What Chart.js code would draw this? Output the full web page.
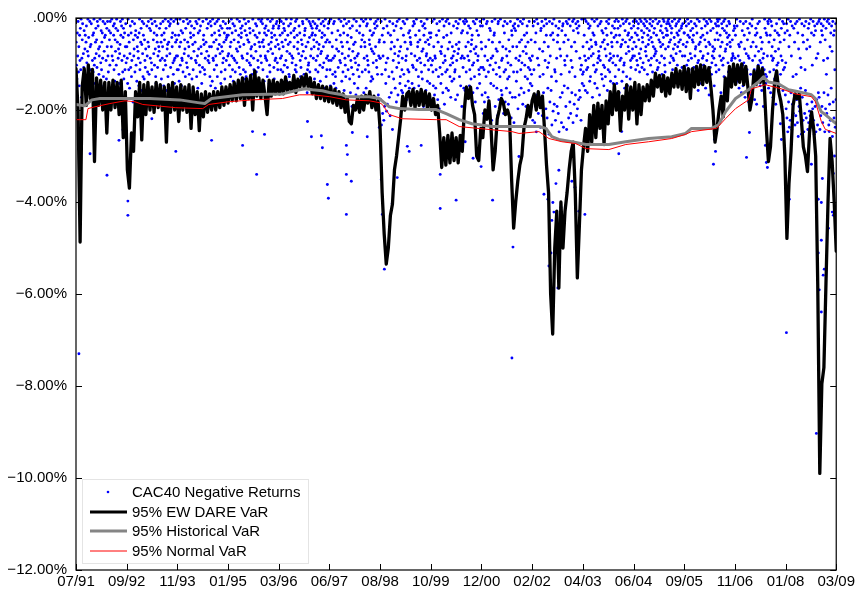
<!DOCTYPE html>
<html>
<head>
<meta charset="utf-8">
<title>CAC40 VaR backtest</title>
<script src="https://cdn.jsdelivr.net/npm/chart.js@4.4.1/dist/chart.umd.min.js"></script>
<style>
  html, body { margin: 0; padding: 0; background: #fff; }
  canvas { display: block; }
</style>
</head>
<body>
<canvas id="chart" width="858" height="594"></canvas>
<script>
// ---- Axis labels -------------------------------------------------------
// x is measured in trading days since 07/91; one labelled period = 296 days.
const periodLabels = ['07/91','09/92','11/93','01/95','03/96','06/97','08/98','10/99',
                      '12/00','02/02','04/03','06/04','09/05','11/06','01/08','03/09'];
const daysPerPeriod = 296;
const yTickValues = [0, -2, -4, -6, -8, -10, -12];
const yTickLabels = ['.00%', '\u22122.00%', '\u22124.00%', '\u22126.00%', '\u22128.00%', '\u221210.00%', '\u221212.00%'];

// ---- 95% EW DARE VaR, losses in basis points, one value every 12 trading days
const dareStep = 12;
const dareVaRbp = [
  110,200,487,150,110,190,102,175,112,312, 130,190,135,200,140,250,140,200,135,195,
  140,210,135,260,160,330,370,250,290,160, 215,140,265,145,210,140,200,150,205,140,
  195,145,200,150,270,145,205,140,200,150, 225,145,200,150,205,145,240,150,210,160,
  245,165,215,160,205,165,200,160,200,160, 195,150,190,150,185,145,180,140,180,135,
  175,130,190,132,175,125,200,115,170,130, 175,135,170,210,135,170,135,165,140,165,
  135,165,128,160,140,158,125,162,133,150, 128,150,122,150,130,165,140,175,145,175,
  148,180,150,182,150,185,155,190,160,195, 165,205,175,225,230,190,200,175,205,170,
  200,168,185,160,195,170,200,180,240,380, 470,535,500,430,405,330,300,260,220,170,
  200,165,160,190,155,195,160,190,155,190, 160,195,165,200,175,210,190,250,325,260,
  320,255,315,250,310,260,315,255,290,200, 150,175,150,190,210,300,310,240,260,200,
  220,180,240,330,290,220,200,175,185,210, 200,215,350,457,400,355,320,300,240,220,
  190,215,180,165,200,160,195,170,240,320, 380,600,687,500,420,587,400,500,420,380,
  330,290,270,380,565,450,330,280,240,290, 210,270,190,260,185,240,190,275,180,230,
  160,210,145,200,160,245,170,200,145,220, 150,200,140,230,145,210,150,180,145,180,
  135,170,120,150,125,160,125,170,130,165, 120,150,110,150,115,155,105,160,110,175,
  110,150,105,145,102,145,105,140,108,150, 200,270,240,200,170,215,130,180,105,150,
  100,145,102,140,100,145,105,150,200,175, 115,145,105,140,110,150,240,312,280,200,
  140,115,160,180,210,300,479,360,290,190, 165,175,165,220,280,300,334,250,204,240,
  300,578,990,795,760,578,400,262,312,399,507
];

// ---- 95% Historical VaR (trading day, basis points)
const histVaRDays = [0,52,93,140,431,606,711,752,792,973, 1206,1305,1340,1381,1439,1480,1556,1579,1713,1771,
  1812,1830,1888,2004,2104,2162,2238,2313,2430,2704, 2745,2779,2820,2896,2978,3112,3211,3345,3479,3560,
  3595,3712,3753,3793,3852,3927,3986,4015,4044,4102, 4161,4219,4295,4318,4353,4376,4411,4440];
const histVaRbp = [188,191,178,175,175,178,184,186,175,167, 165,156,154,156,158,162,167,171,171,175,
  188,193,197,199,199,208,221,230,236,236, 240,258,264,269,275,275,269,262,258,251,
  240,240,232,204,175,156,139,128,139,143, 156,160,167,175,204,210,221,230];

// ---- 95% Normal VaR (trading day, basis points)
const normVaRDays = [0,58,70,111,198,286,344,390,583,740, 775,892,1031,1206,1305,1381,1480,1579,1713,1771,
  1789,1830,1905,2104,2162,2238,2430,2546,2587,2704, 2762,2838,2919,2978,3112,3211,3345,3479,3560,3595,
  3741,3793,3852,3927,3945,4026,4120,4201,4295,4318, 4353,4376,4440];
const normVaRbp = [221,221,197,193,186,180,182,188,195,197, 188,182,178,175,167,167,171,178,180,184,
  188,210,219,221,221,236,243,247,251,247, 262,269,273,284,286,275,269,262,253,247,
  240,219,197,178,154,145,154,165,171,182, 225,242,251];

// ---- CAC40 daily losses: one row per labelled period, one character per
// trading day shown in order. Letters give the loss in 0.05% bins
// (a = 0.00-0.05%, b = 0.05-0.10% ... Z = 2.55-2.60%); '.' = up day.
const returnLevels = 'abcdefghijklmnopqrstuvwxyzABCDEFGHIJKLMNOPQRSTUVWXYZ';
const returnRows = [
  'kuAgqbxmDhsewaIrjc.pvfBnhzkdtGoaqiyEbmwlcF.shxgaurCkepjvbHdnyqmaJtfwkgrbzDoich.sAembqxLfjubgEmaqKsdhwcBjoeuaGkfrnyCplbhMdsaxieAqgwmctJ',
  'mrCahwkEpdvgzsb.Kjqncxhfu.BmiorDgawtkeFlbpzhcAjsvnG.dqxkbmyeHrfatwcL.jpgubnzCdhkvqImoe.sckAhrmbwDgjsaueFqnlzbkHdpcvaEimgtybsCrhkaqjw',
  'qcwhBmaukfDrsgxb.pjnzeHtavkcqmyFbgirdA.lwhoeJksbtzcqEgnaufxdmpC.vbjhlwyrGkaoe.scqtmzbDdmhBarskwgcEqjubznIaflhpdCxmeotbrkgAwcjsiheq',
  'hpbuemzkaqgwcBrjdsxf.ntaoCkhvbmyeigqdr.wlaAfxczhspjDbktegunqmy.afrwBlhcoxdiEsvakgm.qbtakcwjmBgeqrdhszaoflCuxbnkgiapedvAhsmrcjbtwle',
  'dnahrwbqkgxmceuf.jsaBovhldyzpkcgaqt.rCfmiewbuxahnk.pdDgszvjqlbcoAyhferm.aGwkutbixcqdnhegbrjmAchwsekdqxnalfuBpcoigvbmtdhEakzrwjqecsb',
  'kwDasHgmyrcCbqxzEjnL.fvoaIshtbkBpmxdgFaruz.cJkhwqbnAeGsivMdoylaCrktHbfqwEpuzgd.KmajxNhbGrkmwaEdqcsuIxjlfaBnzhoAtgpcKembsvdyaHqkjr',
  'rJbUyhPqeSkMawCtOdLrg.zIbQhnGkxWcsAfmpE.dKvbjHqtaoCzmeFwrGbhy.ckDsqJanwBgxEfiklp.CudvbEcqLhwaIsmkzDfrjGtbxoAdnMhcuekFqpaBjswlgCri',
  'guKbsxDmaHqrEwhc.JkzfNbvoCpmyaGtidLqsxbEhwanF.ckzuIgrBmtqdAoxwJblseHpcnkza.DrgMqfvbErcFamxbIgqkdsDweoAljhuGbtnzcKpmafEsqhwyCbdvk',
  'nHdvPawKqGmzcObsIxjLeufCrSbkqwDhgaMtnyEoQcbJvkza.FsHrmdPxgbKwnEqcAtLjzoGbuRfhImdxTecIfrBmxaNdsHkqbwEjtcLoaGhuzmMpgdAkvFbrwCsjyD',
  'qSdIwbTkMgXaHrcPuLnzVfeJbQoyGdkWsaNhcRvEmtYbKqhFzUcgOjaLwxSdBrMkhPeXbnIqyTfGdcVkDsuhMbWqcEjRaxKdPsmGvbTfaLkzHcoQeNbgJdFrIwSuaCy',
  'mxDhqaFsbwkGvcrenBdzjqmaIgpuhbCxklwaEtdroqHcsmbyfAkguDjvnzeqbhFlwcasxpBrgkmdtCqiebzuhaCkqebwGhsdmrlBajxcutEfkbpzaDhmgocjAsveirnqb',
  'dkqagwmbshuecjpxarnbfviktcgwdaomqbeyhlsjfcauirdkxbmgqenpaohswcv.jbtkfmdqyglaibruxnehcfhbmacktdjqgebwrnsialxdpcgumhbkfaojzedvqclAg',
  'gqbxmdukahscwiApfbrzjekhvBcqnmdygatFslbwkoiCezrhquaxjdEmbsgcpwkHalvfbytqmeorDnjcuxdgabjdwaqhmGsckeurbzfaonEgdlitxbhckmAwsrjpqfBde',
  'rhCwadyBqlEmsbvkGzfuDcthnIxbpAwjeqKrgcHymFdaskzBwJqhemLgxcuoAbsDitnFkvrMpwaeyCgzhqbcEkaxhGbqdmsIrwjAfoLzcugBtnhaDkyqeMsbFwcjvgH',
  'tNcRfXaKmVhSbGqWdLzPeHkUcQyJbTgZnMaOrEvYcIhSkXdPwFbRnLjWeTcOmQaVgKuNbShYdMfXrJcUpGbIaWkQcfMhTdsGaXjNeyPbrHaUcLmSgEdoZbKhRfwVcJ'
];
const returnBin = 0.05;
// Larger daily losses (trading day, loss in %)
const largeLossDays = [17,82,181,251,274,303,303,443,583,792, 973,1031,1055,1101,1352,1375,1433,1439,1468,1474,
  1579,1579,1579,1585,1608,1614,1701,1771,1783,1789, 1801,1812,1847,1876,1935,1946,2016,2127,2127,2220,
  2273,2319,2366,2433,2546,2552,2587,2733,2756,2762, 2774,2779,2785,2791,2803,2814,2820,2832,2896,2914,
  2937,2972,3170,3187,3723,3729,3735,3916,3933,4026, 4032,4038,4114,4120,4149,4166,4295,4324,4335,4335,
  4341,4353,4353,4353,4359,4364,4370,4394,4399,4405, 4417,4423,4423,4430];
const largeLossPct = [7.30,2.95,3.42,2.66,2.43,3.98,4.29,2.19,2.90,2.66, 2.77,2.47,3.40,2.53,2.25,2.58,2.56,2.82,3.62,3.92,
  2.77,3.40,4.27,2.97,3.55,2.49,2.58,2.38,3.51,4.27, 5.46,5.00,4.03,3.47,2.79,2.90,2.77,3.40,4.14,3.96,
  2.69,3.05,3.23,3.96,7.39,4.98,3.01,3.83,3.94,5.39, 5.11,4.40,4.01,4.22,3.60,5.87,3.31,4.12,3.55,3.68,
  4.20,4.27,2.95,2.47,3.18,2.64,2.90,3.03,2.49,2.77, 3.14,3.25,2.30,2.64,6.84,3.94,3.18,9.03,3.94,5.11,
  5.91,4.01,4.83,6.39,3.49,5.59,5.46,4.57,2.47,2.84, 4.22,4.29,3.38,3.00];

// ---- Build datasets ------------------------------------------------------
const bpToPct = bp => -bp / 100;
const dareData = dareVaRbp.map((v, i) => ({ x: i * dareStep, y: bpToPct(v) }));
const histData = histVaRDays.map((d, i) => ({ x: d, y: bpToPct(histVaRbp[i]) }));
const normData = normVaRDays.map((d, i) => ({ x: d, y: bpToPct(normVaRbp[i]) }));

const returnsData = [];
returnRows.forEach((row, j) => {
  const n = row.length;
  for (let k = 0; k < n; k++) {
    const level = returnLevels.indexOf(row[k]);
    if (level < 0) continue;
    // centre of the 0.05% bin
    returnsData.push({ x: j * daysPerPeriod + (k + 0.5) * daysPerPeriod / n,
                       y: -(level + 0.5) * returnBin });
  }
});
largeLossDays.forEach((d, i) => returnsData.push({ x: d, y: -largeLossPct[i] }));

const FONT = "'Liberation Sans', Arial, Helvetica, sans-serif";
Chart.defaults.font.family = FONT;
Chart.defaults.font.size = 15;
Chart.defaults.color = '#000';

// Box frame with inward tick marks on all four sides.
const framePlugin = {
  id: 'frame',
  afterDatasetsDraw(chart) {
    const { ctx, chartArea: a, scales: { x, y } } = chart;
    ctx.save();
    ctx.strokeStyle = '#000';
    ctx.lineWidth = 1.2;
    ctx.strokeRect(a.left, a.top, a.right - a.left, a.bottom - a.top);
    ctx.lineWidth = 1;
    const tick = 6;
    ctx.beginPath();
    periodLabels.forEach((_, i) => {
      const px = Math.round(x.getPixelForValue(i * daysPerPeriod)) + 0.5;
      ctx.moveTo(px, a.bottom); ctx.lineTo(px, a.bottom - tick);
      ctx.moveTo(px, a.top); ctx.lineTo(px, a.top + tick);
    });
    yTickValues.forEach(v => {
      const py = Math.round(y.getPixelForValue(v)) + 0.5;
      ctx.moveTo(a.left, py); ctx.lineTo(a.left + tick, py);
      ctx.moveTo(a.right, py); ctx.lineTo(a.right - tick, py);
    });
    ctx.stroke();
    ctx.restore();
  }
};

// Legend box in the lower-left corner of the plot.
const legendPlugin = {
  id: 'cornerLegend',
  afterDraw(chart) {
    const { ctx, chartArea: a } = chart;
    const x0 = a.left + 6, y0 = a.bottom - 91, w = 226, h = 84;
    ctx.save();
    ctx.fillStyle = '#fff';
    ctx.fillRect(x0, y0, w, h);
    ctx.strokeStyle = '#e4e4e4';
    ctx.lineWidth = 1;
    ctx.strokeRect(x0 + 0.5, y0 + 0.5, w, h);
    const entries = chart.data.datasets.slice().reverse();
    const rowY = [13, 33, 52, 72];
    ctx.font = '15px ' + FONT;
    ctx.textBaseline = 'middle';
    ctx.textAlign = 'left';
    entries.forEach((ds, i) => {
      const cy = y0 + rowY[i];
      if (ds.showLine) {
        ctx.strokeStyle = ds.borderColor;
        ctx.lineWidth = Math.min(ds.borderWidth, 3);
        ctx.beginPath();
        ctx.moveTo(a.left + 14, cy);
        ctx.lineTo(a.left + 51, cy);
        ctx.stroke();
      } else {
        ctx.fillStyle = ds.pointBackgroundColor;
        ctx.beginPath();
        ctx.arc(a.left + 32, cy, 1.3, 0, Math.PI * 2);
        ctx.fill();
      }
      ctx.fillStyle = '#000';
      ctx.fillText(ds.label, a.left + 56, cy + 1);
    });
    ctx.restore();
  }
};

new Chart(document.getElementById('chart'), {
  type: 'scatter',
  data: {
    datasets: [
      { label: '95% Normal VaR', data: normData, showLine: true, borderColor: '#ff0000',
        borderWidth: 1, pointRadius: 0, order: 0 },
      { label: '95% Historical VaR', data: histData, showLine: true, borderColor: '#858585',
        borderWidth: 3, pointRadius: 0, borderJoinStyle: 'round', order: 1 },
      { label: '95% EW DARE VaR', data: dareData, showLine: true, borderColor: '#000000',
        borderWidth: 3.3, pointRadius: 0, borderJoinStyle: 'round', borderCapStyle: 'round', order: 2 },
      { label: 'CAC40 Negative Returns', data: returnsData, showLine: false,
        pointRadius: 1.45, pointBackgroundColor: '#0000ff', pointBorderWidth: 0, order: 3 }
    ]
  },
  options: {
    responsive: false,
    animation: false,
    events: [],
    layout: { padding: { top: 16, right: 20, left: 0, bottom: 0 } },
    plugins: { legend: { display: false }, tooltip: { enabled: false } },
    scales: {
      x: {
        type: 'linear', min: 0, max: periodLabels.length * daysPerPeriod - daysPerPeriod,
        afterBuildTicks: s => { s.ticks = periodLabels.map((_, i) => ({ value: i * daysPerPeriod })); },
        afterFit: s => { s.height = 24; },
        ticks: { callback: v => periodLabels[Math.round(v / daysPerPeriod)], maxRotation: 0,
                 autoSkip: false, padding: 3 },
        grid: { display: false, drawTicks: false },
        border: { display: false }
      },
      y: {
        min: -12, max: 0,
        afterBuildTicks: s => { s.ticks = yTickValues.map(v => ({ value: v })); },
        afterFit: s => { s.width = 76; },
        ticks: { callback: v => yTickLabels[yTickValues.indexOf(v)], padding: 9 },
        grid: { display: false, drawTicks: false },
        border: { display: false }
      }
    }
  },
  plugins: [framePlugin, legendPlugin]
});
</script>
</body>
</html>
